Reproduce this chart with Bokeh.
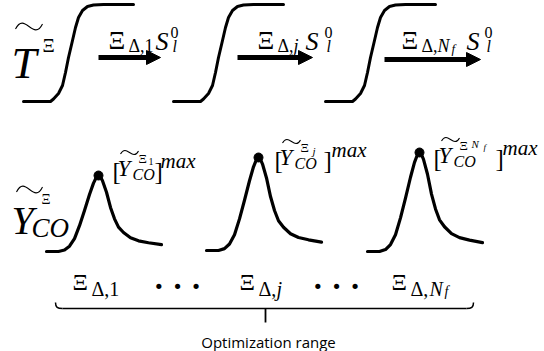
from bokeh.plotting import figure
from bokeh.models import Range1d, Arrow, NormalHead, ColumnDataSource
from bokeh.core.properties import value
from bokeh.embed import file_html
from bokeh.resources import INLINE

# ---------------- data ----------------
# sigmoid stages (temperature curves): left start of each curve
sig_start = [23, 173, 325]
sig_dx = [0, 27, 30, 35, 39, 42, 45, 49, 52, 55, 59, 64, 70, 80, 110]
sig_y = [101, 101, 98.5, 93, 85, 72, 57, 40, 27, 17, 10, 6, 4.5, 4, 4]

# arrows between stages
arrow_x0 = [98, 237, 384]
arrow_x1 = [160, 312, 480]
arrow_y = [57, 57, 59]

# CO peaks
peak_x = [98, 258, 419]
peak_top = [175, 157, 152]
peak_base = [251, 250, 251]
peak_dx = [-52, -40, -34, -29, -24, -19, -14, -9, -5, -2, 0, 2, 4, 8, 12, 16, 20, 25, 32, 40, 50, 63]
peak_frac = [0, 0, 0.02, 0.07, 0.17, 0.34, 0.54, 0.75, 0.9, 0.98, 1.0, 0.98, 0.93, 0.78, 0.58,
             0.43, 0.32, 0.25, 0.18, 0.14, 0.115, 0.09]

# labels
stage_index = ["1", "j", "N"]
range_label = "Optimization range"

SERIF = "Liberation Serif"

p = figure(width=544, height=351, x_range=Range1d(0, 544), y_range=Range1d(351, 0),
           output_backend="svg", toolbar_location=None, min_border=0,
           outline_line_color=None, background_fill_color="white")
p.xaxis.visible = False
p.yaxis.visible = False
p.grid.visible = False

# sigmoids
for s in sig_start:
    p.line([s + d for d in sig_dx], sig_y, line_width=3, line_color="black",
           line_join="round", line_cap="round")

# arrows
asrc = ColumnDataSource(dict(x0=arrow_x0, x1=arrow_x1, y=arrow_y))
p.add_layout(Arrow(end=NormalHead(size=14, fill_color="black", line_color="black", line_width=1),
                   x_start="x0", y_start="y", x_end="x1", y_end="y", source=asrc,
                   line_width=5, line_color="black"))

# peaks
for px, pt, pb in zip(peak_x, peak_top, peak_base):
    p.line([px + d for d in peak_dx], [pb - f * (pb - pt) for f in peak_frac],
           line_width=3.2, line_color="black", line_join="round", line_cap="round")
p.scatter(peak_x, peak_top, size=9, color="black")

# ---------- texts ----------
segs = {"normal": [], "italic": []}


def txt(s, x, y, size, style="normal"):
    segs[style].append((s, x, y, f"{size}px"))


tildes = []


def tilde(xl, xr, yc, a=2.5):
    tildes.append((xl, xr, yc, a))


# T^Xi
txt("T", 11, 62, 45, "italic")
tilde(15, 42, 26, 2.6)
txt("Ξ", 42, 45, 19)

# arrow labels
txt("Ξ", 108, 40, 26); txt("Δ,1", 128, 45, 18)
txt("S", 155, 41, 26, "italic"); txt("0", 170, 32, 16); txt("l", 172, 46, 16, "italic")

txt("Ξ", 257, 40, 26); txt("Δ,", 277, 45, 18); txt("j", 293, 45, 18, "italic")
txt("S", 305, 41, 26, "italic"); txt("0", 324, 32, 16); txt("l", 326, 46, 16, "italic")

txt("Ξ", 401, 40, 26); txt("Δ,", 421, 45, 18); txt("N", 437, 45, 18, "italic")
txt("f", 451, 48, 13, "italic")
txt("S", 466, 41, 26, "italic"); txt("0", 484, 32, 16); txt("l", 486, 46, 16, "italic")

# left Y label
txt("Y", 11, 220, 40, "italic")
tilde(16, 42, 189, 2.6)
txt("Ξ", 41, 199, 14)
txt("CO", 31, 227, 27, "italic")


def peak_label(L, B, idx, close_off, max_off):
    txt("[", L, B + 3, 25)
    txt("Y", L + 5, B, 23, "italic")
    tilde(L + 8, L + 26, B - 16, 1.6)
    txt("Ξ", L + 26, B - 10, 13)
    for s, dx, dy, sz, st in idx:
        txt(s, L + dx, B + dy, sz, st)
    txt("CO", L + 20, B + 6, 16, "italic")
    txt("]", L + close_off, B + 3, 25)
    txt("max", L + max_off, B - 8, 21, "italic")


peak_label(112, 168, [(stage_index[0], 36, -7, 10, "normal")], 42, 48)
peak_label(274, 157, [(stage_index[1], 38, -7, 11, "italic")], 49, 57)
peak_label(433, 155, [(stage_index[2], 38, -12, 11, "italic"), ("f", 50, -9, 9, "italic")], 62, 69)

# bottom labels
txt("Ξ", 72, 281, 24); txt("Δ,1", 91, 288, 20)
txt("Ξ", 239, 281, 24); txt("Δ,", 258, 288, 20); txt("j", 276, 288, 20, "italic")
txt("Ξ", 391, 281, 24); txt("Δ,", 410, 288, 20); txt("N", 429, 288, 20, "italic")
txt("f", 444, 291, 14, "italic")

for style, lst in segs.items():
    src = ColumnDataSource(dict(text=[a[0] for a in lst], x=[a[1] for a in lst],
                                y=[a[2] for a in lst], size=[a[3] for a in lst]))
    p.text(x="x", y="y", text="text", source=src, text_font=value(SERIF),
           text_font_size="size", text_font_style=style, text_baseline="alphabetic",
           text_align="left", text_color="black")

# dots
p.text(x=[177, 336], y=[285, 285], text=["· · ·", "· · ·"], text_font=value(SERIF),
       text_font_size="32px", text_font_style="bold", text_align="center",
       text_baseline="alphabetic", text_color="black")

# tildes
p.bezier(x0=[t[0] for t in tildes], y0=[t[2] + t[3] for t in tildes],
         x1=[t[1] for t in tildes], y1=[t[2] - t[3] for t in tildes],
         cx0=[t[0] + (t[1] - t[0]) / 3 for t in tildes], cy0=[t[2] - 6 * t[3] for t in tildes],
         cx1=[t[1] - (t[1] - t[0]) / 3 for t in tildes], cy1=[t[2] + 6 * t[3] for t in tildes],
         line_width=1.1, line_color="black")

# brace
p.bezier(x0=[55, 473], y0=[302, 302], x1=[62, 466], y1=[308, 308],
         cx0=[55, 473], cy0=[307, 307], cx1=[57, 471], cy1=[308, 308],
         line_width=1.5, line_color="black")
p.line([62, 466], [308, 308], line_width=1.5, line_color="black")
p.line([265, 265], [308, 322], line_width=1.8, line_color="black")

p.text(x=[268], y=[341], text=[range_label], text_font=value("Open Sans"),
       text_font_size="15px", text_align="center", text_baseline="alphabetic",
       text_color="black")

open("out.html", "w").write(file_html(p, INLINE))
